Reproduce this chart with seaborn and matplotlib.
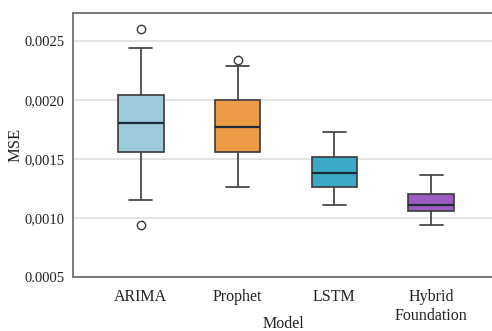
import matplotlib
matplotlib.use("Agg")
import matplotlib.pyplot as plt
import seaborn as sns
import pandas as pd

# ---- data ----
models = ["ARIMA", "Prophet", "LSTM", "Hybrid\nFoundation"]
whisker_low = [0.001156, 0.001263, 0.001110, 0.000937]
q1 = [0.001559, 0.001559, 0.001266, 0.001063]
median = [0.001803, 0.001769, 0.001385, 0.001110]
q3 = [0.002042, 0.002000, 0.001517, 0.001207]
whisker_high = [0.002444, 0.002288, 0.001732, 0.001364]
outlier_model = ["ARIMA", "ARIMA", "Prophet"]
outlier_value = [0.002605, 0.000940, 0.002342]
colors = ["#9dcbd9", "#ec9b46", "#3ba8c5", "#9b5ec0"]
ytick_values = [0.0005, 0.0010, 0.0015, 0.0020, 0.0025]
ytick_labels = ["0.0005", "0,0010", "0,0015", "0,0020", "0.0025"]

rows = []
for i, m in enumerate(models):
    for v in (whisker_low[i], q1[i], median[i], q3[i], whisker_high[i]):
        rows.append({"Model": m, "MSE": v})
df = pd.DataFrame(rows)
out_df = pd.DataFrame({"Model": outlier_model, "MSE": outlier_value})

sns.set_theme(style="white")
plt.rcParams["font.family"] = ["Liberation Serif", "DejaVu Serif"]

fig = plt.figure(figsize=(4.92, 3.31), dpi=100)
ax = fig.add_axes([73 / 492, 1 - 277 / 331, (499 - 73) / 492, (277 - 13) / 331])

edge = "#3a3a3a"
sns.boxplot(data=df, x="Model", y="MSE", hue="Model", order=models, hue_order=models,
            palette=colors, saturation=1, legend=False, whis=(0, 100), width=0.47, ax=ax,
            linewidth=1.2, linecolor=edge,
            medianprops={"color": "#1c2b36", "linewidth": 1.6},
            boxprops={"edgecolor": edge},
            whiskerprops={"color": edge}, capprops={"color": edge})
sns.stripplot(data=out_df, x="Model", y="MSE", order=models, jitter=False, ax=ax,
              color="white", edgecolor=edge, linewidth=1.0, size=6, zorder=5)

ax.set_xlim(-0.7, 3.7)
ax.set_ylim(0.0005, 0.00274)
ax.set_yticks(ytick_values)
ax.set_yticklabels(ytick_labels)
ax.yaxis.grid(True, color="#e4e4e4", linewidth=1.4)
ax.set_axisbelow(True)
for s in ["left", "bottom", "top"]:
    ax.spines[s].set_color("#707070")
    ax.spines[s].set_linewidth(1.3)
ax.spines["right"].set_visible(False)
ax.tick_params(axis="both", which="both", direction="out", length=4, width=1,
               color="#555555", labelcolor="#222222")
ax.tick_params(axis="y", labelsize=10.5, pad=2)
ax.tick_params(axis="x", labelsize=11.5, pad=4.5)
for lbl in ax.get_xticklabels():
    lbl.set_linespacing(1.25)
ax.set_xlabel("Model", fontsize=11.5, color="#222222")
ax.xaxis.set_label_coords(0.493, -0.147)
ax.set_ylabel("MSE", fontsize=12, color="#222222", labelpad=1)

fig.savefig("out.png", dpi=100)
